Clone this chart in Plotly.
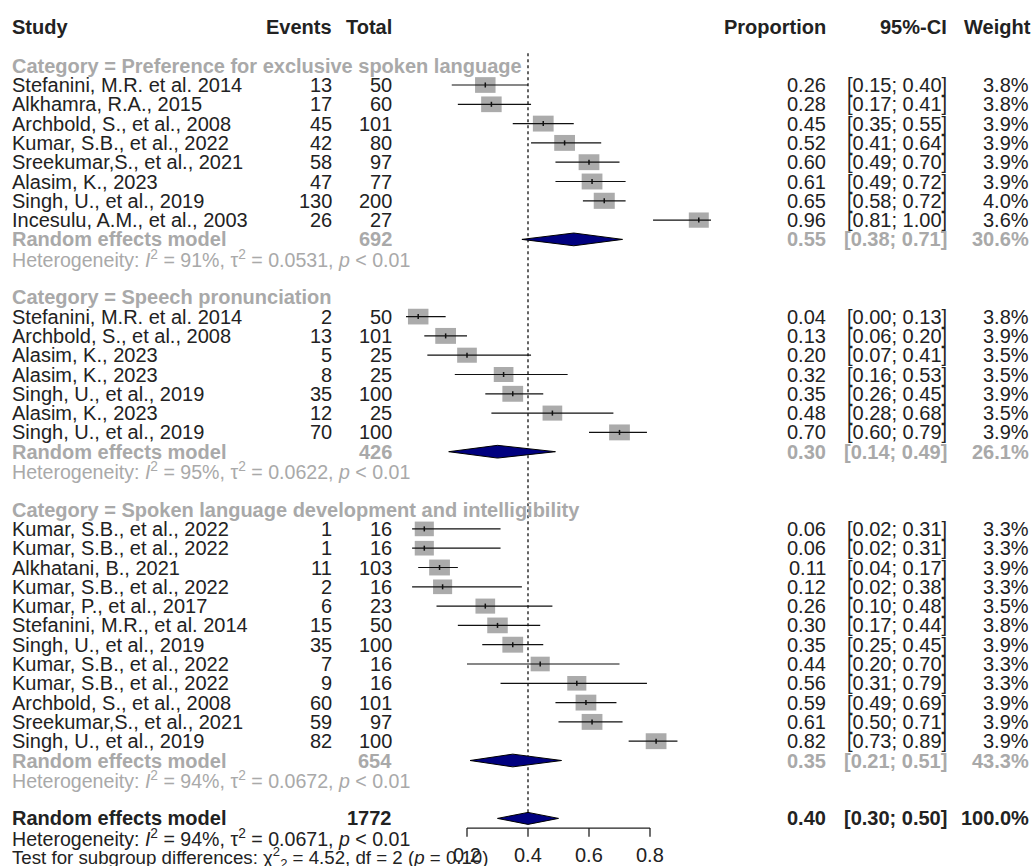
import math
import plotly.graph_objects as go

# ---------------- data ----------------
cat_labels = ["Preference for exclusive spoken language",
              "Speech pronunciation",
              "Spoken language development and intelligibility"]

studies_1 = ["Stefanini, M.R. et al. 2014", "Alkhamra, R.A., 2015", "Archbold, S., et al., 2008",
             "Kumar, S.B., et al., 2022", "Sreekumar,S., et al., 2021", "Alasim, K., 2023",
             "Singh, U., et al., 2019", "Incesulu, A.M., et al., 2003"]
events_1 = [13, 17, 45, 42, 58, 47, 130, 26]
total_1 = [50, 60, 101, 80, 97, 77, 200, 27]
prop_1 = [0.26, 0.28, 0.45, 0.52, 0.60, 0.61, 0.65, 0.96]
lo_1 = [0.15, 0.17, 0.35, 0.41, 0.49, 0.49, 0.58, 0.81]
hi_1 = [0.40, 0.41, 0.55, 0.64, 0.70, 0.72, 0.72, 1.00]
weight_1 = [3.8, 3.8, 3.9, 3.9, 3.9, 3.9, 4.0, 3.6]

studies_2 = ["Stefanini, M.R. et al. 2014", "Archbold, S., et al., 2008", "Alasim, K., 2023",
             "Alasim, K., 2023", "Singh, U., et al., 2019", "Alasim, K., 2023",
             "Singh, U., et al., 2019"]
events_2 = [2, 13, 5, 8, 35, 12, 70]
total_2 = [50, 101, 25, 25, 100, 25, 100]
prop_2 = [0.04, 0.13, 0.20, 0.32, 0.35, 0.48, 0.70]
lo_2 = [0.00, 0.06, 0.07, 0.16, 0.26, 0.28, 0.60]
hi_2 = [0.13, 0.20, 0.41, 0.53, 0.45, 0.68, 0.79]
weight_2 = [3.8, 3.9, 3.5, 3.5, 3.9, 3.5, 3.9]

studies_3 = ["Kumar, S.B., et al., 2022", "Kumar, S.B., et al., 2022", "Alkhatani, B., 2021",
             "Kumar, S.B., et al., 2022", "Kumar, P., et al., 2017", "Stefanini, M.R., et al. 2014",
             "Singh, U., et al., 2019", "Kumar, S.B., et al., 2022", "Kumar, S.B., et al., 2022",
             "Archbold, S., et al., 2008", "Sreekumar,S., et al., 2021", "Singh, U., et al., 2019"]
events_3 = [1, 1, 11, 2, 6, 15, 35, 7, 9, 60, 59, 82]
total_3 = [16, 16, 103, 16, 23, 50, 100, 16, 16, 101, 97, 100]
prop_3 = [0.06, 0.06, 0.11, 0.12, 0.26, 0.30, 0.35, 0.44, 0.56, 0.59, 0.61, 0.82]
lo_3 = [0.02, 0.02, 0.04, 0.02, 0.10, 0.17, 0.25, 0.20, 0.31, 0.49, 0.50, 0.73]
hi_3 = [0.31, 0.31, 0.17, 0.38, 0.48, 0.44, 0.45, 0.70, 0.79, 0.69, 0.71, 0.89]
weight_3 = [3.3, 3.3, 3.9, 3.3, 3.5, 3.8, 3.9, 3.3, 3.3, 3.9, 3.9, 3.9]

re_total = [692, 426, 654]
re_prop = [0.55, 0.30, 0.35]
re_lo = [0.38, 0.14, 0.21]
re_hi = [0.71, 0.49, 0.51]
re_weight = [30.6, 26.1, 43.3]
het_i2 = [91, 95, 94]
het_tau2 = ["0.0531", "0.0622", "0.0672"]
het_p = ["< 0.01", "< 0.01", "< 0.01"]

overall_total = 1772
overall_prop = 0.40
overall_lo = 0.30
overall_hi = 0.50
overall_weight = 100.0
overall_i2 = 94
overall_tau2 = "0.0671"
overall_p = "< 0.01"
test_chi2 = "4.52"
test_df = 2
test_p = "0.10"

axis_ticks = [0.2, 0.4, 0.6, 0.8]
header_labels = ["Study", "Events", "Total", "Proportion", "95%-CI", "Weight"]

# ---------------- layout constants ----------------
FIG_W, FIG_H = 1035, 866
ROW_H, ROW0 = 19.3, 27.1
PX_ZERO, PX_PER_UNIT = 406, 305
FONT = "Liberation Sans, Arial, sans-serif"
DARK = "#222222"
GRAY = "#a9a9a9"
BOX = "#ababab"
NAVY = "#00007f"
FS = 20
FS_HET = 19.6
FS_TEST = 18.7

COL_STUDY = 10
COL_EVENTS = 334
COL_TOTAL = 394
COL_PROP = 828
COL_CI = 949
COL_W = 1031

groups = [
    (cat_labels[0], studies_1, events_1, total_1, prop_1, lo_1, hi_1, weight_1),
    (cat_labels[1], studies_2, events_2, total_2, prop_2, lo_2, hi_2, weight_2),
    (cat_labels[2], studies_3, events_3, total_3, prop_3, lo_3, hi_3, weight_3),
]

annotations = []
shapes = []


def txt(px, row, s, anchor, color=DARK, size=FS):
    annotations.append(dict(x=px / FIG_W, xref="paper", y=row, yref="y", text=s,
                            xanchor=anchor, yanchor="middle", showarrow=False,
                            font=dict(family=FONT, size=size, color=color)))


def b(s):
    return "<b>" + s + "</b>"


def ci(lo, hi):
    return f"[{lo:.2f}; {hi:.2f}]"


# header
txt(COL_STUDY, 0, b(header_labels[0]), "left")
txt(COL_EVENTS, 0, b(header_labels[1]), "right")
txt(COL_TOTAL, 0, b(header_labels[2]), "right")
txt(COL_PROP, 0, b(header_labels[3]), "right")
txt(COL_CI, 0, b(header_labels[4]), "right")
txt(COL_W + 2, 0, b(header_labels[5]), "right")

wx, wy, tx, ty = [], [], [], []
dia_x, dia_y = [], []

row = 2
for gi, (cat, st, ev, tot, pr, lo, hi, w) in enumerate(groups):
    txt(COL_STUDY, row, b("Category = " + cat), "left", GRAY)
    for i in range(len(st)):
        r = row + 1 + i
        txt(COL_STUDY, r, st[i], "left")
        txt(COL_EVENTS, r, str(ev[i]), "right")
        txt(COL_TOTAL, r, str(tot[i]), "right")
        txt(COL_PROP, r, f"{pr[i]:.2f}", "right")
        txt(COL_CI, r, ci(lo[i], hi[i]), "right")
        txt(COL_W, r, f"{w[i]:.1f}%", "right")
        scale = math.sqrt(w[i] / 3.8)
        hw = 20.5 * scale / 2 / PX_PER_UNIT
        hh = 15.7 * scale / 2 / ROW_H
        shapes.append(dict(type="rect", xref="x", yref="y", x0=pr[i] - hw, x1=pr[i] + hw,
                           y0=r - hh, y1=r + hh, fillcolor=BOX, line=dict(width=0),
                           layer="below"))
        wx += [lo[i], hi[i], None]
        wy += [r, r, None]
        tx += [pr[i], pr[i], None]
        ty += [r - 0.13, r + 0.13, None]
    r_re = row + 1 + len(st)
    txt(COL_STUDY, r_re, b("Random effects model"), "left", GRAY)
    txt(COL_TOTAL, r_re, b(str(re_total[gi])), "right", GRAY)
    txt(COL_PROP, r_re, b(f"{re_prop[gi]:.2f}"), "right", GRAY)
    txt(COL_CI, r_re, b(ci(re_lo[gi], re_hi[gi])), "right", GRAY)
    txt(COL_W, r_re, b(f"{re_weight[gi]:.1f}%"), "right", GRAY)
    dia_x += [re_lo[gi], re_prop[gi], re_hi[gi], re_prop[gi], re_lo[gi], None]
    dia_y += [r_re, r_re - 0.33, r_re, r_re + 0.33, r_re, None]
    txt(COL_STUDY, r_re + 1,
        f"Heterogeneity: <i>I</i><sup>2</sup> = {het_i2[gi]}%, τ<sup>2</sup> = {het_tau2[gi]}, "
        f"<i>p</i> {het_p[gi]}", "left", GRAY, FS_HET)
    row += len(st) + 4

# overall
r_all = row
txt(COL_STUDY, r_all, b("Random effects model"), "left")
txt(COL_TOTAL, r_all, b(str(overall_total)), "right")
txt(COL_PROP, r_all, b(f"{overall_prop:.2f}"), "right")
txt(COL_CI, r_all, b(ci(overall_lo, overall_hi)), "right")
txt(COL_W, r_all, b(f"{overall_weight:.1f}%"), "right")
dia_x += [overall_lo, overall_prop, overall_hi, overall_prop, overall_lo, None]
dia_y += [r_all, r_all - 0.31, r_all, r_all + 0.31, r_all, None]
txt(COL_STUDY, r_all + 1,
    f"Heterogeneity: <i>I</i><sup>2</sup> = {overall_i2}%, τ<sup>2</sup> = {overall_tau2}, "
    f"<i>p</i> {overall_p}", "left", DARK, FS_HET)
txt(COL_STUDY, r_all + 2,
    f"Test for subgroup differences: χ<sup>2</sup><sub>{test_df}</sub> = {test_chi2}, "
    f"df = {test_df} (<i>p</i> = {test_p})", "left", DARK, FS_TEST)

# axis (drawn from tick values)
axis_row = r_all + 0.5
ax_x = [axis_ticks[0], axis_ticks[-1], None]
ax_y = [axis_row, axis_row, None]
for t in axis_ticks:
    ax_x += [t, t, None]
    ax_y += [axis_row, axis_row + 0.45, None]
    annotations.append(dict(x=t, xref="x", y=r_all + 1.9, yref="y", text=f"{t:.1f}",
                            xanchor="center", yanchor="middle", showarrow=False,
                            font=dict(family=FONT, size=FS, color=DARK)))

fig = go.Figure()
# reference (dotted) line at overall estimate
fig.add_trace(go.Scatter(x=[overall_prop, overall_prop], y=[1.36, r_all - 0.3], mode="lines",
                         line=dict(color="#111111", width=1.3, dash="dot"), hoverinfo="skip"))
fig.add_trace(go.Scatter(x=wx, y=wy, mode="lines", line=dict(color="#111111", width=1.2),
                         hoverinfo="skip"))
fig.add_trace(go.Scatter(x=tx, y=ty, mode="lines", line=dict(color="#111111", width=1.5),
                         hoverinfo="skip"))
fig.add_trace(go.Scatter(x=dia_x, y=dia_y, mode="lines", fill="toself", fillcolor=NAVY,
                         line=dict(color="#000000", width=1), hoverinfo="skip"))
fig.add_trace(go.Scatter(x=ax_x, y=ax_y, mode="lines", line=dict(color="#222222", width=1.3),
                         hoverinfo="skip"))

fig.update_layout(
    width=FIG_W, height=FIG_H,
    margin=dict(l=0, r=0, t=0, b=0),
    paper_bgcolor="white", plot_bgcolor="white",
    showlegend=False,
    xaxis=dict(range=[-PX_ZERO / PX_PER_UNIT, (FIG_W - PX_ZERO) / PX_PER_UNIT],
               visible=False, fixedrange=True),
    yaxis=dict(range=[(FIG_H - ROW0) / ROW_H, -ROW0 / ROW_H], visible=False, fixedrange=True),
    annotations=annotations,
    shapes=shapes,
)

fig.write_html("out.html",
               config={"displayModeBar": False},
               post_script="document.body.style.margin='0';document.body.style.overflow='hidden';")
